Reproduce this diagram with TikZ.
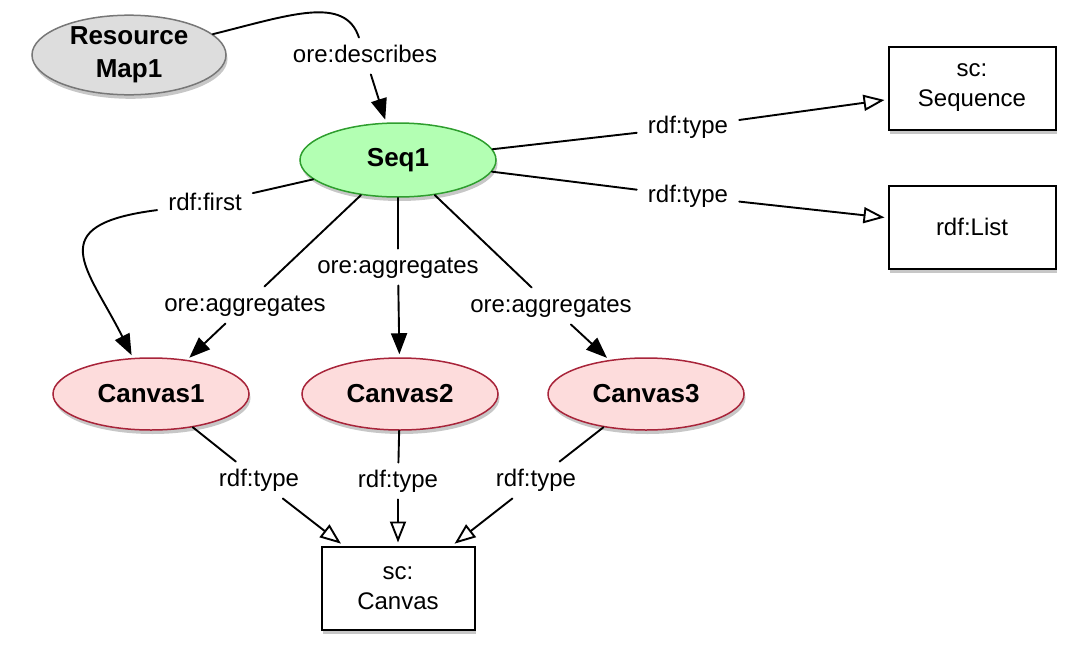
\documentclass[tikz,border=0pt]{standalone}
\usepackage{fontspec}
\setmainfont{Liberation Sans}
\usetikzlibrary{arrows.meta,shapes.geometric,shadows}
\definecolor{seqfill}{HTML}{B3FFB3}
\definecolor{seqdraw}{HTML}{2E9E2E}
\definecolor{canfill}{HTML}{FDDCDC}
\definecolor{candraw}{HTML}{A8243A}
\definecolor{rmfill}{HTML}{DDDDDD}
\definecolor{rmdraw}{HTML}{777777}
\begin{document}
\begin{tikzpicture}[x=1pt,y=-1pt,
  shadowed/.style={drop shadow={shadow xshift=1.5pt,shadow yshift=-4pt,opacity=0.22,fill=black}},
  res/.style={ellipse, inner sep=0pt, line width=1.5pt, shadowed, font=\fontsize{26}{33}\selectfont\bfseries, align=center},
  rmnode/.style={res, draw=rmdraw, fill=rmfill, minimum width=194pt, minimum height=74pt},
  seqnode/.style={res, draw=seqdraw, fill=seqfill, minimum width=196pt, minimum height=74pt},
  cannode/.style={res, draw=candraw, fill=canfill, minimum width=196pt, minimum height=72pt},
  classbox/.style={rectangle, draw=black, fill=white, line width=2pt, shadowed, minimum width=167pt, minimum height=83pt, inner sep=0pt, align=center, font=\fontsize{24}{30}\selectfont},
  lbl/.style={inner xsep=11pt, inner ysep=7pt, text height=17.5pt, text depth=5pt, font=\fontsize{24}{29}\selectfont},
  conn/.style={line width=1.9pt, line cap=round},
  solidarrow/.style={conn, -{Triangle[length=21pt,width=16pt]}, shorten >=3pt},
  openarrow/.style={conn, -{Triangle[open,length=21pt,width=16pt,fill=white]}, shorten >=3pt},
]
\useasboundingbox (0,0) rectangle (1089,664);

% resource nodes
\node[rmnode] (rm) at (129,55) {Resource\\Map1};
\node[seqnode] (seq) at (398,160) {Seq1};
\node[cannode] (c1) at (151,394) {Canvas1};
\node[cannode] (c2) at (400,394) {Canvas2};
\node[cannode] (c3) at (646,394) {Canvas3};

% class boxes
\node[classbox] (sseq) at (972,88) {sc:\\Sequence};
\node[classbox] (list) at (972,227) {rdf:List};
\node[classbox, minimum width=153pt] (scan) at (398,588) {sc:\\Canvas};

% labels
\node[lbl] (ldesc) at (365,56) {ore:describes};
\node[lbl] (lfirst) at (205,204) {rdf:first};
\node[lbl] (laggL) at (245,305) {ore:aggregates};
\node[lbl] (laggM) at (398,267) {ore:aggregates};
\node[lbl] (laggR) at (551,306) {ore:aggregates};
\node[lbl] (ltypeS) at (688,127) {rdf:type};
\node[lbl] (ltypeL) at (688,196) {rdf:type};
\node[lbl] (lt1) at (259,480) {rdf:type};
\node[lbl] (lt2) at (398,481) {rdf:type};
\node[lbl] (lt3) at (536,480) {rdf:type};

% connectors
\draw[conn] (rm) .. controls (290,15) and (345,-5) .. (ldesc);
\draw[solidarrow] (ldesc) -- (seq);

\draw[conn] (seq) -- (lfirst);
\draw[solidarrow] (lfirst) .. controls (40,225) and (88,268) .. (c1);

\draw[conn] (seq) -- (laggL);
\draw[solidarrow] (laggL) -- (c1);
\draw[conn] (seq) -- (laggM);
\draw[solidarrow] (laggM) -- (c2);
\draw[conn] (seq) -- (laggR);
\draw[solidarrow] (laggR) -- (c3);

\draw[conn] (seq) -- (ltypeS);
\draw[openarrow] (ltypeS) -- (sseq);
\draw[conn] (seq) -- (ltypeL);
\draw[openarrow] (ltypeL) -- (list);

\draw[conn] (c1) -- (lt1);
\draw[openarrow] (lt1) -- (scan);
\draw[conn] (c2) -- (lt2);
\draw[openarrow] (lt2) -- (scan);
\draw[conn] (c3) -- (lt3);
\draw[openarrow] (lt3) -- (scan);
\end{tikzpicture}
\end{document}
